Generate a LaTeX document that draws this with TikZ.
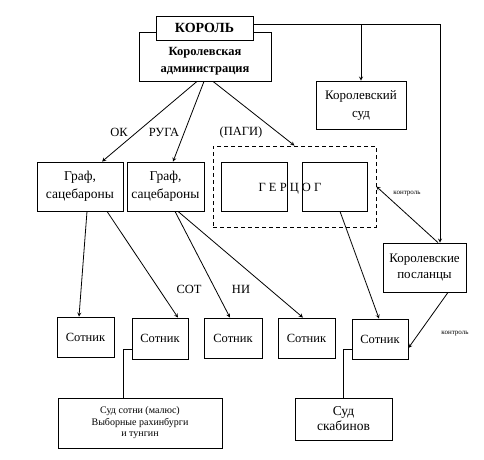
\documentclass[tikz,border=0pt]{standalone}
\usepackage{fontspec}
\setmainfont{Liberation Serif}
\tikzset{
  box/.style={draw,line width=0.8pt,fill=white,inner sep=1pt,align=center},
  dbox/.style={draw,line width=0.8pt,dashed,dash pattern=on 4pt off 3pt},
  link/.style={draw,line width=0.8pt,->,>=stealth},
  wire/.style={draw,line width=0.8pt},
  lbl/.style={inner sep=0pt,font=\fontsize{12.5}{14}\selectfont},
  tiny/.style={inner sep=0pt,font=\fontsize{7}{8}\selectfont}
}
\begin{document}
\begin{tikzpicture}[x=1pt,y=-1pt,every node/.style={font=\fontsize{12.5}{17}\selectfont}]
  \useasboundingbox (0,0) rectangle (484,459);
  \node[box,minimum width=132pt,minimum height=49pt,font=\bfseries\fontsize{12.5}{17}\selectfont] (admin) at (205,56.5) {\rule{0pt}{18pt}Королевская\\администрация};
  \node[box,minimum width=97pt,minimum height=24pt,font=\bfseries\fontsize{14}{15}\selectfont] (king) at (204.5,28) {КОРОЛЬ};
  \node[box,minimum width=90pt,minimum height=48pt,font=\fontsize{13}{18}\selectfont] (court) at (361,105) {Королевский\\суд};
  \node[box,minimum width=83pt,minimum height=49pt,font=\fontsize{13}{16}\selectfont] (envoy) at (424.5,267.5) {Королевские\\посланцы};
  \node[box,minimum width=86pt,minimum height=49pt,font=\fontsize{13.5}{18}\selectfont] (graf1) at (80,186.5) {Граф,\\сацебароны};
  \node[box,minimum width=77pt,minimum height=49pt,font=\fontsize{13.5}{18}\selectfont] (graf2) at (165.5,186.5) {Граф,\\сацебароны};
  \node[dbox,minimum width=163pt,minimum height=81pt] (pagi) at (294.5,186.5) {};
  \node[box,minimum width=66pt,minimum height=49pt] (duke1) at (254,186.5) {};
  \node[box,minimum width=65pt,minimum height=49pt] (duke2) at (334.5,186.5) {};
  \node[lbl] (duke) at (290,189) {Г Е Р Ц О Г};
  \node[box,minimum width=57pt,minimum height=40pt] (sot1) at (85.5,337) {Сотник};
  \node[box,minimum width=56pt,minimum height=41pt] (sot2) at (160,338.5) {Сотник};
  \node[box,minimum width=58pt,minimum height=40pt] (sot3) at (233,338) {Сотник};
  \node[box,minimum width=57pt,minimum height=40pt] (sot4) at (306.5,338) {Сотник};
  \node[box,minimum width=56pt,minimum height=40pt] (sot5) at (380,339) {Сотник};
  \node[box,minimum width=164pt,minimum height=50pt,font=\fontsize{10}{11.5}\selectfont] (court100) at (140,423) {Суд сотни (малюс)\\Выборные рахинбурги\\и тунгин};
  \node[box,minimum width=97pt,minimum height=42pt,font=\fontsize{13.5}{15}\selectfont] (scab) at (343.5,419) {Суд\\скабинов};
  \node[lbl] (ok) at (119,132) {ОК};
  \node[lbl] (ruga) at (164,132) {РУГА};
  \node[lbl] (pagilbl) at (241,132) {(ПАГИ)};
  \node[lbl] (sot) at (189,289) {СОТ};
  \node[lbl] (ni) at (241,289) {НИ};
  \node[tiny] (ctrl1) at (407,194) {контроль};
  \node[tiny] (ctrl2) at (455,334) {контроль};
  \coordinate (corner) at (440,24);
  \draw[wire] ([yshift=4pt]king.east) -- (corner);
  \draw[link] (corner) -- ([xshift=15.5pt]envoy.north);
  \draw[link] (court.north |- corner) -- (court.north);
  \draw[link] ([xshift=-8pt]admin.south) -- ([xshift=22pt]graf1.north);
  \draw[link] ([xshift=-1pt]admin.south) -- ([xshift=7.5pt]graf2.north);
  \draw[link] ([xshift=8pt]admin.south) -- (pagi.north);
  \draw[link] ([xshift=13.5pt]envoy.north) -- (pagi.east);
  \draw[link] ([xshift=7pt]graf1.south) -- ([xshift=-6.5pt]sot1.north);
  \draw[link] ([xshift=27pt]graf1.south) -- ([xshift=18pt]sot2.north);
  \draw[link] ([xshift=9.5pt]graf2.south) -- ([xshift=-3pt]sot3.north);
  \draw[link] ([xshift=12.5pt]graf2.south) -- ([xshift=-3.5pt]sot4.north);
  \draw[link] ([xshift=5.5pt]duke2.south) -- ([xshift=-1pt]sot5.north);
  \draw[link] ([xshift=23.5pt]envoy.south) -- ([yshift=-9pt]sot5.east);
  \draw[wire] ([yshift=-10.5pt]sot2.west) -| ([xshift=-17pt]court100.north);
  \draw[wire] ([yshift=-10pt]sot5.west) -| (scab.north);
\end{tikzpicture}
\end{document}
